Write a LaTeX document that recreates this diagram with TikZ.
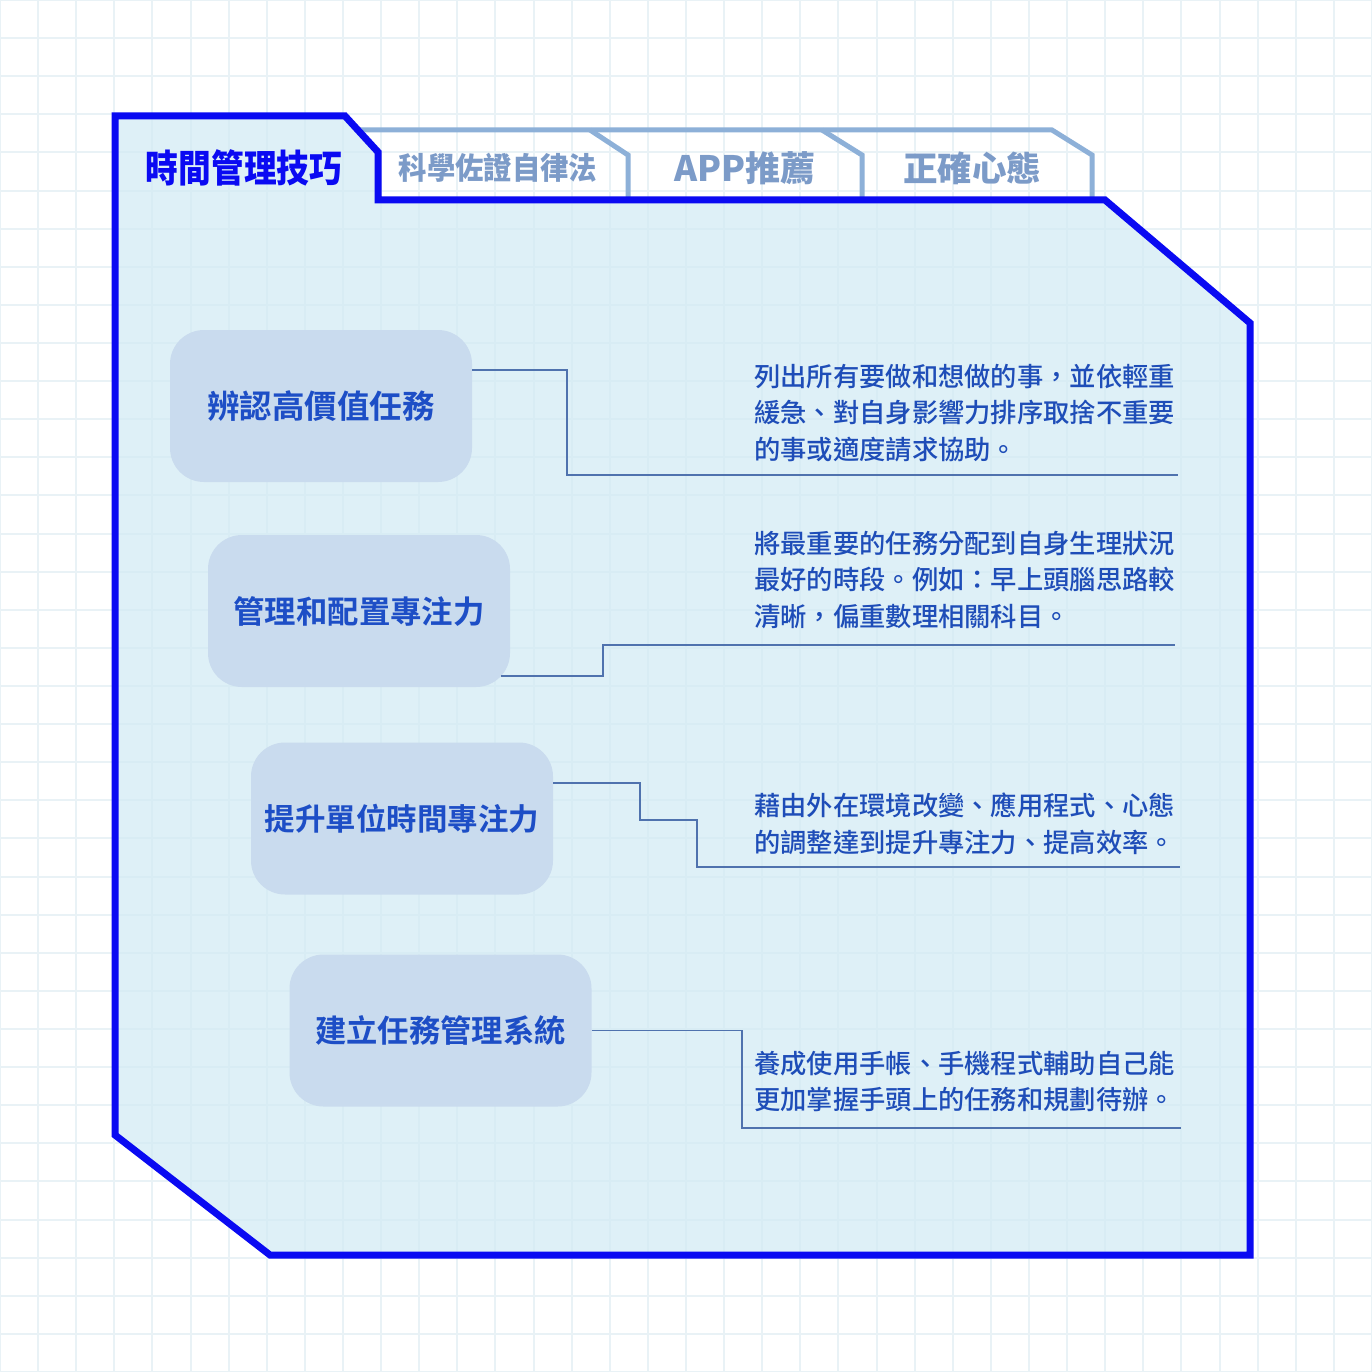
\documentclass[tikz,border=0pt]{standalone}
\usepackage{fontspec}
\newfontfamily\cjk{Noto Sans CJK TC Medium}
\newfontfamily\cjkbold{Noto Sans CJK TC Bold}
\newfontfamily\cjkblack[FakeStretch=0.86]{Noto Sans CJK TC Black}
\newfontfamily\cjktab{Noto Sans CJK TC Black}
\newfontfamily\cjktabnarrow[FakeStretch=0.93]{Noto Sans CJK TC Black}
\definecolor{gridc}{HTML}{E9F2F6}
\definecolor{panelfill}{HTML}{D1EAF4}
\definecolor{mainblue}{HTML}{0A0AF2}
\definecolor{tabline}{HTML}{8DB0D8}
\definecolor{tabtext}{HTML}{7C9BC8}
\definecolor{nodefill}{HTML}{C9DBEE}
\definecolor{nodetext}{HTML}{1D4EC6}
\definecolor{desctext}{HTML}{1E4DB8}
\definecolor{connc}{HTML}{4F72AE}
\tikzset{
  gridline/.style={draw=gridc, line width=2pt},
  panel/.style={draw=mainblue, line width=7pt, line join=miter, fill=panelfill, fill opacity=0.7},
  tabedge/.style={draw=tabline, line width=5pt, line join=miter},
  leftbox/.style={fill=nodefill, rounded corners=34pt, minimum width=302pt, minimum height=152pt, inner sep=0pt, text=nodetext},
  boxfont/.style={font=\fontsize{#1}{#1}\selectfont\cjkbold},
  desc/.style={anchor=north west, inner sep=0pt, align=left, text=desctext, font=\fontsize{26.3}{36.5}\selectfont\cjk},
  conn/.style={draw=connc, line width=1.5pt},
  tablabel/.style={inner sep=0pt, text=tabtext},
}
\begin{document}
\begin{tikzpicture}[x=1pt,y=-1pt]
\useasboundingbox (0,0) rectangle (1372,1372);
\fill[white] (0,0) rectangle (1372,1372);
% background grid
\foreach \i in {0,...,36} {
  \draw[gridline] (\i*38.11,0) -- (\i*38.11,1372);
  \draw[gridline] (0,\i*38.11) -- (1372,\i*38.11);
}
% inactive tabs
\draw[tabedge] (358,130) -- (1052,130) -- (1092,155) -- (1092,200);
\draw[tabedge] (590,130) -- (628,155) -- (628,200);
\draw[tabedge] (822,130) -- (862,155) -- (862,200);
% main panel
\draw[panel] (115,116) -- (345,116) -- (378,152) -- (378,200) -- (1105,200) -- (1250,323) -- (1250,1255) -- (270,1255) -- (115,1135) -- cycle;
% tab labels
\node[inner sep=0pt, text=mainblue, font=\fontsize{38}{38}\selectfont\cjkblack] (h0) at (244,168) {時間管理技巧};
\node[tablabel, font=\fontsize{30.5}{30.5}\selectfont\cjktabnarrow] (t1) at (498,168) {科學佐證自律法};
\node[tablabel, font=\fontsize{35}{35}\selectfont\cjktab] (t2) at (745,168) {APP推薦};
\node[tablabel, font=\fontsize{34.5}{34.5}\selectfont\cjktab] (t3) at (972,168) {正確心態};
% left boxes
\node[leftbox, boxfont=32.5] (n1) at (321,406) {辨認高價值任務};
\node[leftbox, boxfont=31.4] (n2) at (359,611) {管理和配置專注力};
\node[leftbox, boxfont=30.5] (n3) at (402,818.5) {提升單位時間專注力};
\node[leftbox, boxfont=31.3] (n4) at (440.5,1030.5) {建立任務管理系統};
% descriptions
\node[desc] (d1) at (754,364) {列出所有要做和想做的事，並依輕重\\緩急、對自身影響力排序取捨不重要\\的事或適度請求協助。};
\node[desc] (d2) at (754,531) {將最重要的任務分配到自身生理狀況\\最好的時段。例如：早上頭腦思路較\\清晰，偏重數理相關科目。};
\node[desc] (d3) at (754,793) {藉由外在環境改變、應用程式、心態\\的調整達到提升專注力、提高效率。};
\node[desc] (d4) at (754,1051) {養成使用手帳、手機程式輔助自己能\\更加掌握手頭上的任務和規劃待辦。};
% connector ends
\coordinate (e1) at (1178,475);
\coordinate (e2) at (1175,645);
\coordinate (e3) at (1180,867);
\coordinate (e4) at (1181,1128);
% connectors
\draw[conn] ([yshift=36pt]n1.east) -- (567,370) -- (567,475) -- (e1);
\draw[conn] ([xshift=-9pt,yshift=-65pt]n2.east) -- (603,676) -- (603,645) -- (e2);
\draw[conn] ([yshift=35.5pt]n3.east) -- (640,783) -- (640,820) -- (697,820) -- (697,867) -- (e3);
\draw[conn] (n4.east) -- (742,1030.5) -- (742,1128) -- (e4);
\end{tikzpicture}
\end{document}
